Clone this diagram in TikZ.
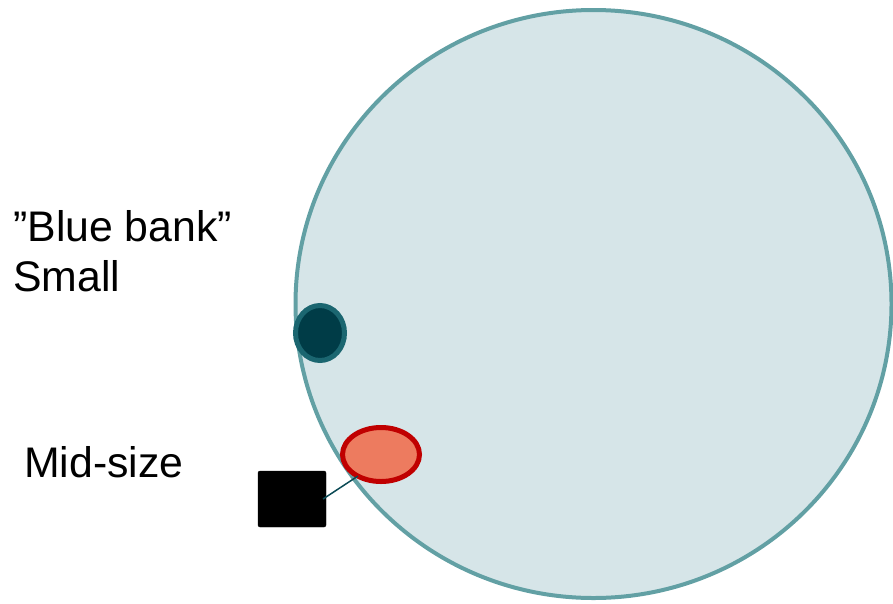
\documentclass[tikz,border=0pt]{standalone}
\usepackage{fontspec}
\setmainfont{Liberation Sans}
\usetikzlibrary{shapes.geometric}
\definecolor{bankfill}{HTML}{D6E5E8}
\definecolor{bankline}{HTML}{62A0A4}
\definecolor{smallfill}{HTML}{003C47}
\definecolor{smallline}{HTML}{1B6670}
\definecolor{midfill}{HTML}{ED7B5F}
\definecolor{midline}{HTML}{C00000}
\definecolor{linkcol}{HTML}{0B4A55}
\tikzset{
  lbl/.style={inner sep=0pt, anchor=base west, font=\fontsize{42.8}{50}\selectfont},
  blob/.style={ellipse, inner sep=0pt, outer sep=0pt, line width=5pt},
}
\begin{document}
\begin{tikzpicture}[x=1pt,y=-1pt]
\useasboundingbox (0,0) rectangle (893,603);
\node[ellipse, inner sep=0pt, outer sep=0pt, draw=bankline, fill=bankfill, line width=4pt,
      minimum width=596pt, minimum height=588pt] (bank) at (593.5,304) {};
\node[blob, draw=smallline, fill=smallfill, minimum width=49pt, minimum height=55pt] (small) at (320,333) {};
\node[blob, draw=midline, fill=midfill, minimum width=77pt, minimum height=54pt] (mid) at (381,454.5) {};
\node[rectangle, rounded corners=2pt, draw=black, fill=black, inner sep=0pt, outer sep=0pt,
      minimum width=68pt, minimum height=56pt] (sq) at (292,499) {};
\draw[linkcol, line width=1.5pt] ([xshift=-3pt]sq.east) -- (mid.223);
\node[lbl] (blue) at (13,241) {”Blue bank”};
\node[lbl] (smalltxt) at (13,291.7) {Small};
\node[lbl] (midtxt) at (24,477.7) {Mid-size};
\end{tikzpicture}
\end{document}
